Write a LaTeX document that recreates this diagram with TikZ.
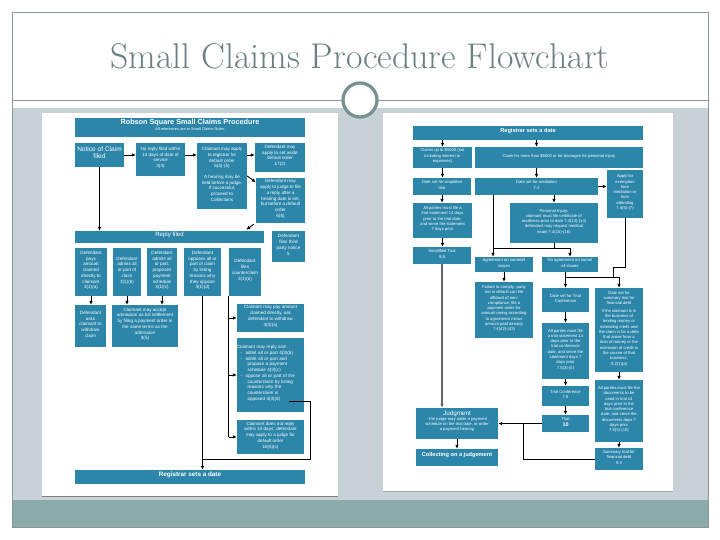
\documentclass[tikz,border=0pt]{standalone}
\usepackage{fontspec}
\newfontfamily\boxfont{Liberation Sans}
\usepackage{tikz}
\usetikzlibrary{arrows.meta,positioning,fit,calc}
\definecolor{boxc}{RGB}{44,134,170}
\definecolor{panelc}{RGB}{200,209,213}
\definecolor{bandc}{RGB}{138,171,170}
\definecolor{titlec}{RGB}{108,128,128}
\definecolor{framec}{RGB}{140,152,152}
\definecolor{ringc}{RGB}{120,146,146}
\newcommand{\lefttext}{\fontsize{3.9}{4.9}\selectfont}
\newcommand{\righttext}{\fontsize{3.55}{4.5}\selectfont}

\begin{document}
\begin{tikzpicture}[x=0.3mm, y=-0.3mm,
  box/.style={fill=boxc, text=white, align=center, inner sep=0pt, font=\boxfont\lefttext},
  rbox/.style={box, font=\boxfont\righttext},
  arr/.style={-{Latex[length=1.2mm,width=1.1mm]}, line width=0.8pt},
  ln/.style={line width=0.8pt}]
  \useasboundingbox (0,0) rectangle (720,540);
  \fill[panelc] (12,108) rectangle (708,500);
  \fill[bandc] (12,500) rectangle (708,527);
  \draw[framec, line width=0.6pt] (12,12) rectangle (708,527);
  \draw[framec, line width=0.6pt] (12,100) -- (708,100);
  \fill[white] (42,113) rectangle (338,496);
  \draw[gray, line width=0.6pt] (42,496) -- (338,496);
  \fill[white] (383,113) rectangle (673,491);
  \draw[gray!70, line width=0.4pt] (383,491) -- (673,491);
  \draw[ringc, line width=2.8pt, fill=white] (360,100) circle (17);
  \node[text=titlec, font=\fontsize{30.5}{34}\selectfont] (title) at (360,56) {Small Claims Procedure Flowchart};

  \node[box, fit={(75,118) (305,137)}] (head) {{\fontsize{6.2}{7}\selectfont\bfseries Robson Square Small Claims Procedure}\\[-0.5pt]{\fontsize{3.3}{4}\selectfont All references are to Small Claims Rules}};
  \node[box, fit={(75,143) (124,167)}, font=\boxfont\fontsize{5.6}{6.6}\selectfont] (notice) {Notice of Claim\\filed};
  \node[box, fit={(136,143) (185,176)}] (noreply) {No reply filed within\\14 days of date of\\service\\3(4)};
  \node[box, fit={(197,143) (247,209)}] (apply) {Claimant may apply\\to registrar for\\default order\\6(4)-(5)\\[4pt]A hearing may be\\held before a judge.\\If successful,\\proceed to\\Collections};
  \node[box, fit={(255,143) (305,172)}] (setaside) {Defendant may\\apply to set aside\\default order\\17(2)};
  \node[box, fit={(256,178) (305,223)}] (judgefile) {Defendant may\\apply to judge to file\\a reply after a\\hearing date is set,\\but before a default\\order\\6(8)};
  \node[box, fit={(75,231) (264,243)}, font=\boxfont\fontsize{5.2}{6}\selectfont] (reply) {Reply filed};
  \node[box, fit={(272,231) (305,262)}] (third) {Defendant\\files third\\party notice\\5};
  \node[box, fit={(75,248) (107,296)}] (pays) {Defendant\\pays\\amount\\claimed\\directly to\\claimant\\3(1)(a)};
  \node[box, fit={(113,248) (141,296)}] (admits) {Defendant\\admits all\\or part of\\claim\\3(1)(b)};
  \node[box, fit={(147,248) (177,296)}] (proposes) {Defendant\\admits all\\or part,\\proposes\\payment\\schedule\\3(1)(c)};
  \node[box, fit={(184,248) (221,296)}] (opposes) {Defendant\\opposes all or\\part of claim\\by listing\\reasons why\\they oppose\\3(1)(d)};
  \node[box, fit={(229,248) (261,296)}] (counter) {Defendant\\files\\counterclaim\\3(1)(e)};
  \node[box, fit={(75,305) (106,347)}] (withdraw) {Defendant\\asks\\claimant to\\withdraw\\claim};
  \node[box, fit={(112,305) (178,347)}] (accept) {Claimant may accept\\admission as full settlement\\by filing a payment order in\\the same terms as the\\admission\\3(5)};
  \node[box, fit={(237,304) (304,332)}] (paydirect) {Claimant may pay amount\\claimed directly, ask\\defendant to withdraw\\4(3)(a)};
  \node[box, fit={(237,338) (304,412)}, align=left] (mayreply) {Claimant may reply and:\\
    \hspace*{3pt}-\hspace{3pt}admit all or part 4(3)(b)\\
    \hspace*{3pt}-\hspace{3pt}admit all or part and\\
    \hspace*{9pt}propose a payment\\
    \hspace*{9pt}schedule 4(3)(c)\\
    \hspace*{3pt}-\hspace{3pt}oppose all or part of the\\
    \hspace*{9pt}counterclaim by listing\\
    \hspace*{9pt}reasons why the\\
    \hspace*{9pt}counterclaim is\\
    \hspace*{9pt}opposed 4(3)(d)};
  \node[box, fit={(237,420) (304,454)}] (noreply2) {Claimant does not reply\\within 14 days: defendant\\may apply to a judge for\\default order\\16(5)(c)};
  \node[box, fit={(75,470) (305,484)}, font=\boxfont\fontsize{5.4}{6}\selectfont\bfseries] (reg1) {Registrar sets a date};

  \node[rbox, fit={(413,126) (643,140)}, font=\boxfont\fontsize{4.8}{5.5}\selectfont\bfseries] (reg2) {Registrar sets a date};
  \node[rbox, fit={(413,147) (472,168)}] (upto) {Claims up to \$5000 (not\\including interest or\\expenses)};
  \node[rbox, fit={(475,147) (643,168)}] (more) {Claim for more than \$5000 or for damages for personal injury};
  \node[rbox, fit={(413,178) (471,195)}] (simpdate) {Date set for simplified\\trial};
  \node[rbox, fit={(475,178) (598,195)}] (mediation) {Date set for mediation\\7.4};
  \node[rbox, fit={(607,170) (643,218)}] (exempt) {Apply for\\exemption\\from\\mediation or\\from\\attending\\7.4(5)-(7)};
  \node[rbox, fit={(413,203) (472,238)}] (trialstmt) {All parties must file a\\trial statement 14 days\\prior to the trial date,\\and serve the statement\\7 days prior};
  \node[rbox, fit={(510,203) (598,243)}] (injury) {Personal Injury:\\claimant must file certificate of\\readiness prior to date 7.4(13)-(14)\\defendant may request medical\\exam 7.4(15)-(16)};
  \node[rbox, fit={(413,247) (471,264)}] (simptrial) {Simplified Trial\\9.8};
  \node[rbox, fit={(475,257) (533,272)}] (agree) {Agreement on some/all\\issues};
  \node[rbox, fit={(542,257) (598,272)}] (noagree) {No agreement on some/\\all issues};
  \node[rbox, fit={(475,282) (533,338)}] (failure) {Failure to comply: party\\not in default can file\\affidavit of non-\\compliance, file a\\payment order for\\amount owing according\\to agreement minus\\amount paid already\\7.4(42)-(43)};
  \node[rbox, fit={(542,288) (589,312)}] (tcdate) {Date set for Trial\\Conference};
  \node[rbox, fit={(595,288) (643,372)}] (summarydate) {Date set for\\summary trial for\\financial debt\\[2pt]If the claimant is in\\the business of\\lending money or\\extending credit and\\the claim is for a debt\\that arose from a\\loan of money or the\\extension of credit in\\the course of that\\business.\\9.2(1)(a)};
  \node[rbox, fit={(542,323) (589,379)}] (tcstmt) {All parties must file\\a trial statement 14\\days prior to the\\trial conference\\date, and serve the\\statement days 7\\days prior\\7.5(3)-(6)};
  \node[rbox, fit={(595,380) (643,442)}] (docs) {All parties must file the\\documents to be\\used in trial 14\\days prior to the\\trial conference\\date, and serve the\\documents days 7\\days prior\\7.5(3)-(10)};
  \node[rbox, fit={(542,386) (589,406)}] (tc) {Trial Conference\\7.5};
  \node[rbox, fit={(542,415) (589,432)}] (trial) {Trial\\{\bfseries\fontsize{4.6}{5}\selectfont 10}};
  \node[rbox, fit={(595,448) (643,470)}] (summary) {Summary trial for\\financial debt\\9.3};
  \node[rbox, fit={(416,408) (498,439)}] (judgment) {{\fontsize{5.4}{6.2}\selectfont Judgment}\\- the judge may order a payment\\schedule on the trial date, or order\\a payment hearing};
  \node[rbox, fit={(416,449) (498,466)}, font=\boxfont\fontsize{4.8}{5.5}\selectfont\bfseries] (collect) {Collecting on a judgement};

  \coordinate (opp) at (289,401);
  \coordinate (oppturn) at (310,459);
  \coordinate (medsplit) at (493,248);
  \coordinate (nasplit) at (565,277);
  \coordinate (exturn) at (613,267);
  \coordinate (sumjoin) at (523,424);

  \draw[arr] (notice.east) -- (notice.east -| noreply.west);
  \draw[arr] (noreply.east |- notice.east) -- (notice.east -| apply.west);
  \draw[arr] (apply.east |- notice.east) -- (notice.east -| setaside.west);
  \draw[arr] (apply.east) -- ($(judgefile.north west)!0.1!(judgefile.south west)$);
  \draw[arr] (notice.south) -- (notice.south |- reply.north);
  \draw[arr] ($(judgefile.south west)+(-2,1)$) -- ($(reply.north east)+(-18,-1)$);
  \draw[arr] (pays.south) -- (pays.south |- withdraw.north);
  \draw[arr] (admits.south) -- (admits.south |- accept.north);
  \draw[arr] (proposes.south) -- (proposes.south |- accept.north);
  \draw[arr] (opposes.south) -- (opposes.south |- reg1.north);
  \draw[ln] (counter.south west) -- (counter.south west |- noreply2.west);
  \draw[arr] (counter.south west |- paydirect.west) -- (paydirect.west);
  \draw[arr] (counter.south west |- mayreply.west) -- (mayreply.west);
  \draw[arr] (counter.south west |- noreply2.west) -- (noreply2.west);
  \draw[ln] (opp) -| (oppturn) -- (oppturn -| opposes.south);

  \draw[arr] (reg2.south -| upto.north) -- (upto.north);
  \draw[arr] (reg2.south -| mediation.north) -- (more.north -| mediation.north);
  \draw[arr] (upto.south) -- (upto.south |- simpdate.north);
  \draw[arr] (simpdate.south) -- (simpdate.south |- trialstmt.north);
  \draw[arr] (trialstmt.south) -- (trialstmt.south |- simptrial.north);
  \draw[arr, gray!80!black, line width=1.1pt] (simptrial.south) -- (simptrial.south |- judgment.north);
  \draw[arr] (more.south -| mediation.north) -- (mediation.north);
  \draw[arr] (mediation.east) -- (mediation.east -| exempt.west);
  \draw[arr] (mediation.south -| injury.north) -- (injury.north);
  \draw[arr] (mediation.south -| medsplit) -- (agree.north -| medsplit);
  \draw[ln] (injury.south) |- (medsplit);
  \draw[arr] (injury.south |- medsplit) -| (noagree.north);
  \draw[arr] (agree.south) -- (failure.north);
  \draw[arr] (noagree.south -| tcdate.north) -- (tcdate.north);
  \draw[arr] (nasplit -| tcdate.north) -| (summarydate.north);
  \draw[ln] (exempt.south) |- (exturn) -- (exturn |- nasplit);
  \draw[arr] (tcdate.south) -- (tcdate.south |- tcstmt.north);
  \draw[arr] (tcstmt.south) -- (tcstmt.south |- tc.north);
  \draw[arr] (tc.south) -- (tc.south |- trial.north);
  \draw[arr] (trial.west) -- (trial.west -| judgment.east);
  \draw[arr] (summarydate.south) -- (summarydate.south |- docs.north);
  \draw[arr] (docs.south) -- (docs.south |- summary.north);
  \draw[ln] (summary.west) -| (sumjoin);
  \draw[arr] (judgment.south) -- (judgment.south |- collect.north);
\end{tikzpicture}
\end{document}
